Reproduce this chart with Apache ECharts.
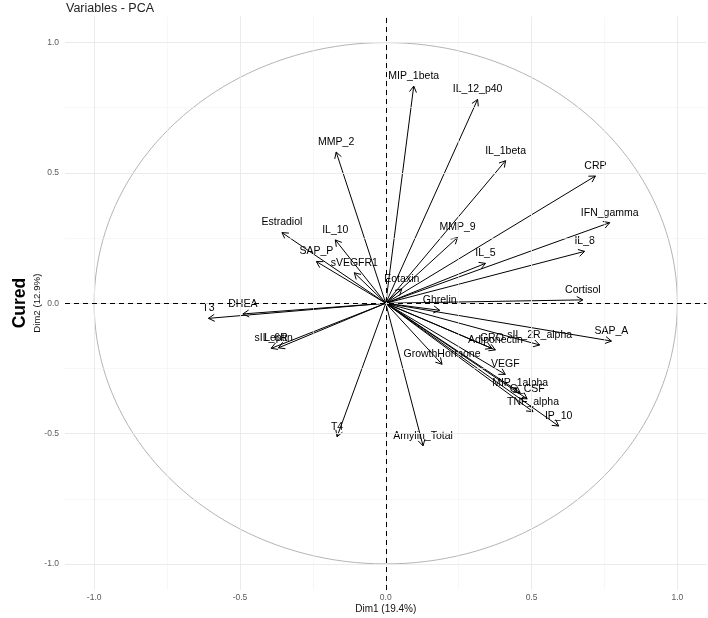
<!DOCTYPE html>
<html>
<head>
<meta charset="utf-8">
<script src="https://cdn.jsdelivr.net/npm/echarts@6/dist/echarts.min.js"></script>
<style>
html,body{margin:0;padding:0;background:#fff;}
#chart{width:708px;height:618px;}
</style>
</head>
<body>
<div id="chart"></div>
<script>
// ---- data ----
const varNames = ['MIP_1beta','IL_12_p40','IL_1beta','CRP','IFN_gamma','IL_8','Cortisol','MMP_9','IL_5','Eotaxin',
  'MMP_2','Estradiol','IL_10','SAP_P','sVEGFR1','T3','DHEA','sIL_6R','Leptin','T4','Amylin_Total','GrowthHormone',
  'Ghrelin','SAP_A','sIL_2R_alpha','GRO','Adiponectin','VEGF','MIP_1alpha','G_CSF','TNF_alpha','IP_10'];
const dim1 = [0.096,0.315,0.411,0.719,0.768,0.682,0.676,0.246,0.342,0.055,
  -0.170,-0.356,-0.173,-0.238,-0.108,-0.608,-0.490,-0.393,-0.368,-0.167,0.128,0.193,
  0.185,0.774,0.528,0.364,0.376,0.410,0.461,0.485,0.505,0.593];
const dim2 = [0.833,0.782,0.547,0.488,0.309,0.199,0.013,0.252,0.153,0.055,
  0.580,0.271,0.243,0.160,0.117,-0.058,-0.041,-0.173,-0.171,-0.512,-0.547,-0.234,
  -0.027,-0.145,-0.160,-0.173,-0.179,-0.273,-0.343,-0.367,-0.416,-0.471];
const tickLabels = [-1, -0.5, 0, 0.5, 1];
const majorGrid = [-1, -0.5, 0, 0.5, 1];
const minorGrid = [-0.75, -0.25, 0.25, 0.75];
const titleText = 'Variables - PCA';
const xName = 'Dim1 (19.4%)';
const yName = 'Dim2 (12.9%)';
const sideLabel = 'Cured';

const FONT = '"Liberation Sans", Arial, sans-serif';
const chart = echarts.init(document.getElementById('chart'), null, {renderer:'canvas'});

const arrowData = varNames.map((n,i)=>[dim1[i], dim2[i], n]);

function gridLines(vals, color, width){
  const d = [];
  vals.forEach(v=>{ d.push({xAxis:v}); d.push({yAxis:v}); });
  return {type:'line', data:[], silent:true, z:1,
    markLine:{silent:true, symbol:['none','none'], label:{show:false},
      lineStyle:{color:color, width:width, type:'solid'}, emphasis:{disabled:true}, animation:false, data:d}};
}

const option = {
  animation:false,
  backgroundColor:'#fff',
  title:{text:titleText, left:61, top:-3, textStyle:{fontFamily:FONT, fontSize:12.5, fontWeight:'normal', color:'#222'}},
  grid:{left:65, right:1.5, top:16.5, bottom:28, containLabel:false, outerBoundsMode:'none'},
  xAxis:{type:'value', min:-1.1, max:1.1,
    splitLine:{show:false}, axisLine:{show:false}, axisTick:{show:false},
    axisLabel:{customValues:tickLabels, formatter:v=>v.toFixed(1), fontSize:8.5, color:'#5a5a5a', fontFamily:FONT, margin:3},
    name:xName, nameLocation:'middle', nameGap:14, nameMoveOverlap:false,
    nameTextStyle:{fontSize:10, color:'#111', fontFamily:FONT, verticalAlign:'top'}},
  yAxis:{type:'value', min:-1.1, max:1.1,
    splitLine:{show:false}, axisLine:{show:false}, axisTick:{show:false},
    axisLabel:{customValues:tickLabels, formatter:v=>v.toFixed(1), fontSize:8.5, color:'#5a5a5a', fontFamily:FONT, margin:6},
    name:yName, nameLocation:'middle', nameRotate:90, nameGap:23, nameMoveOverlap:false,
    nameTextStyle:{fontSize:9.7, color:'#111', fontFamily:FONT}},
  graphic:[{type:'text', x:20, y:303, rotation:Math.PI/2,
    style:{text:sideLabel, font:'bold 17.5px '+FONT, fill:'#000', align:'center', verticalAlign:'middle'}}],
  series:[
    gridLines(minorGrid, '#f2f2f2', 0.6),
    gridLines(majorGrid, '#e9e9e9', 0.9),
    {type:'custom', z:2, silent:true, data:[[0,0]],
      renderItem:function(params, api){
        const pts = [];
        for(let a=0; a<=360; a+=2){
          const t = a*Math.PI/180;
          pts.push(api.coord([Math.cos(t), Math.sin(t)]));
        }
        return {type:'polyline', shape:{points:pts}, style:{stroke:'#b5b5b5', lineWidth:1, fill:null}};
      }},
    {type:'line', data:[], silent:true, z:3,
      markLine:{silent:true, symbol:['none','none'], label:{show:false}, animation:false,
        lineStyle:{color:'#000', width:1, type:[5,4]}, data:[{xAxis:0},{yAxis:0}]}},
    {type:'custom', z:4, silent:true, data:arrowData, dimensions:['x','y','name'], encode:{x:0,y:1},
      renderItem:function(params, api){
        const p0 = api.coord([0,0]);
        const p1 = api.coord([api.value(0), api.value(1)]);
        const ang = Math.atan2(p1[1]-p0[1], p1[0]-p0[0]);
        const L = 7, w = Math.PI/6;
        const a1 = [p1[0]-L*Math.cos(ang-w), p1[1]-L*Math.sin(ang-w)];
        const a2 = [p1[0]-L*Math.cos(ang+w), p1[1]-L*Math.sin(ang+w)];
        return {type:'group', children:[
          {type:'line', shape:{x1:p0[0], y1:p0[1], x2:p1[0], y2:p1[1]}, style:{stroke:'#000', lineWidth:1}},
          {type:'polyline', shape:{points:[a1, p1, a2]}, style:{stroke:'#000', lineWidth:1, fill:null}},
          {type:'text', style:{text:api.value(2), x:p1[0], y:p1[1]-10, align:'center', verticalAlign:'middle',
            font:'10.5px '+FONT, fill:'#000'}}
        ]};
      }}
  ]
};
chart.setOption(option);
</script>
</body>
</html>
